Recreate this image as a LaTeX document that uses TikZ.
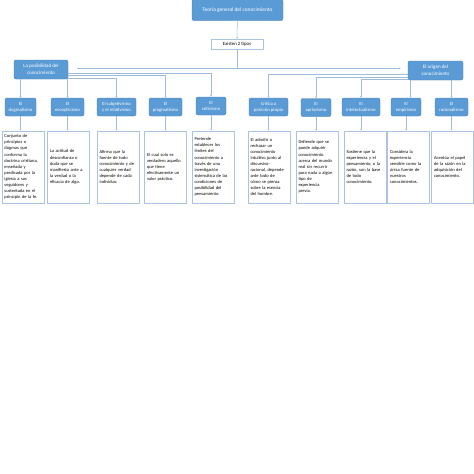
\documentclass[tikz,border=0pt]{standalone}
\usepackage{fontspec}
\setmainfont{Carlito}
\usetikzlibrary{arrows.meta,positioning,calc}
\definecolor{boxblue}{HTML}{5B9BD5}
\definecolor{edgeblue}{HTML}{4A7EB0}
\definecolor{lineblue}{HTML}{9DBCDC}
\definecolor{paleblue}{HTML}{A9C4E2}

\begin{document}
\begin{tikzpicture}[x=1pt,y=-1pt,
   bluebox/.style={draw=edgeblue,line width=0.4pt,fill=boxblue,rounded corners=2pt,
                   text=white,align=center,inner sep=0pt},
   lvl/.style={bluebox,minimum height=18pt,font=\fontsize{4.7}{6}\selectfont},
   desc/.style={draw=paleblue,line width=0.6pt,fill=white,text width=37pt,inner xsep=2.5pt,
                inner ysep=0pt,minimum height=72pt,align=left,font=\fontsize{4.5}{6.1}\selectfont},
   conn/.style={draw=lineblue,line width=0.5pt,-{Latex[length=1.6pt,width=1.8pt]}}]
  \useasboundingbox[fill=white] (0,0) rectangle (474,474);
  \node[bluebox,minimum width=91pt,minimum height=21pt,font=\fontsize{5.4}{7}\selectfont]
       (teoria) at (237.5,10) {Teoría general del conocimiento};
  \node[draw=paleblue,line width=0.6pt,fill=white,minimum width=52pt,minimum height=10pt,
        inner sep=0pt,font=\fontsize{4.8}{6}\selectfont] (tipos) at (237,44) {Existen 2 tipos};
  \node[bluebox,minimum width=54pt,minimum height=19pt,font=\fontsize{5}{6.7}\selectfont]
       (posib) at (41,69.5) {La posibilidad del\\conocimiento};
  \node[bluebox,minimum width=55pt,minimum height=19pt,font=\fontsize{5}{6.7}\selectfont]
       (origen) at (435.5,70.5) {El origen del\\conocimiento};
  % segundo nivel
  \node[lvl,minimum width=31pt] (b1) at (20.5,107) {El\\dogmatismo};
  \node[lvl,minimum width=33pt] (b2) at (67.5,107) {El\\escepticismo};
  \node[lvl,minimum width=39pt] (b3) at (116.5,107) {El subjetivismo\\y el relativismo};
  \node[lvl,minimum width=33pt] (b4) at (165.5,107) {El\\pragmatismo};
  \node[lvl,minimum width=30pt] (b5) at (211,106) {El\\criticismo};
  \node[lvl,minimum width=39pt] (b6) at (268.5,107) {Crítica a\\posición propia};
  \node[lvl,minimum width=30pt] (b7) at (316,107.5) {El\\apriorismo};
  \node[lvl,minimum width=38pt] (b8) at (361,107) {El\\intelectualismo};
  \node[lvl,minimum width=30pt] (b9) at (406,107) {El\\empirismo};
  \node[lvl,minimum width=33pt] (b10) at (451.5,107) {El\\racionalismo};
  % definiciones
  \node[desc] (t1) at (23,167) {Conjunto de\\principios o\\dogmas que\\conforma la\\doctrina cristiana,\\enseñada y\\predicada por la\\iglesia a sus\\seguidores y\\sustentada en el\\principio de la fe.};
  \node[desc] (t2) at (68.5,167) {La actitud de\\desconfianza o\\duda que se\\manifiesta ante a\\la verdad o la\\eficacia de algo.};
  \node[desc] (t3) at (118,167) {Afirma que la\\fuente de todo\\conocimiento y de\\cualquier verdad\\depende de cada\\individuo.};
  \node[desc] (t4) at (165.5,167) {El cual solo es\\verdadero aquello\\que tiene\\efectivamente un\\valor práctico.};
  \node[desc] (t5) at (213,167) {Pretende\\establecer los\\límites del\\conocimiento a\\través de una\\investigación\\sistemática de las\\condiciones de\\posibilidad del\\pensamiento.};
  \node[desc] (t6) at (269,167) {El admitir o\\rechazar un\\conocimiento\\intuitivo junto al\\discursivo-\\racional, depende\\ante todo de\\cómo se piensa\\sobre la esencia\\del hombre.};
  \node[desc] (t7) at (317,167) {Defiende que se\\puede adquirir\\conocimiento\\acerca del mundo\\real sin recurrir\\para nada a algún\\tipo de\\experiencia\\previa.};
  \node[desc] (t8) at (365,167) {Sostiene que la\\experiencia y el\\pensamiento, o la\\razón, son la base\\de todo\\conocimiento.};
  \node[desc] (t9) at (408.5,167) {Considera la\\experiencia\\sensible como la\\única fuente de\\nuestros\\conocimientos.};
  \node[desc] (t10) at (452.5,167) {Acentúa el papel\\de la razón en la\\adquisición del\\conocimiento.};
  % conectores
  \draw[conn] (teoria) -- (tipos);
  \coordinate (hub) at ($(tipos.south)+(0,19)$);
  \draw[lineblue,line width=0.5pt] (tipos) -- (hub);
  \draw[conn,shorten >=9pt] (hub) -- (hub -| posib.east);
  \draw[conn,shorten >=7pt] (hub) -- (hub -| origen.west);
  \draw[conn] (posib.south -| b1) -- (b1);
  \draw[conn] (posib.south -| b2) -- (b2);
  \draw[conn] ($(posib.east)+(0,8.5)$) -| (b3);
  \draw[conn] ($(posib.east)+(0,6)$) -| (b4);
  \draw[conn] ($(posib.east)+(0,3.5)$) -| (b5);
  \draw[conn] ($(origen.west)+(0,3.5)$) -| (b6);
  \draw[conn] ($(origen.west)+(0,6.5)$) -| (b7);
  \draw[conn] ($(origen.west)+(0,9)$) -| (b8);
  \coordinate (o9) at ($(b9.north)+(4.5,0)$);
  \draw[conn] (origen.south -| o9) -- (o9);
  \draw[conn] (origen.south -| b10) -- (b10);
  \foreach \i in {1,...,10}
    \draw[conn] (b\i) -- (b\i |- t\i.north);
\end{tikzpicture}
\end{document}
